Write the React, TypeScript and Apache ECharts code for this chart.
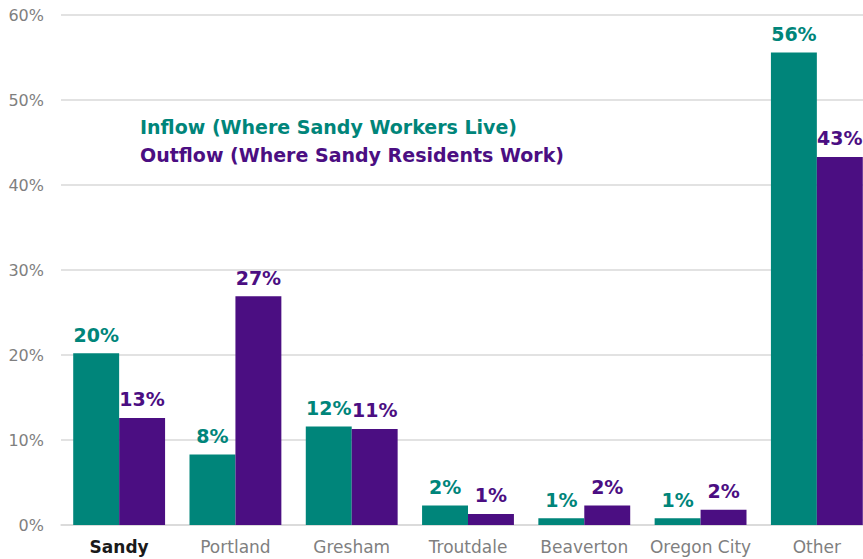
import React, { useEffect, useRef } from "react";
import * as echarts from "echarts";

const categories = ["Sandy", "Portland", "Gresham", "Troutdale", "Beaverton", "Oregon City", "Other"];
const inflow = [20.2, 8.3, 11.6, 2.3, 0.8, 0.8, 55.6];
const outflow = [12.6, 26.9, 11.3, 1.3, 2.3, 1.8, 43.3];
const yTicks = [0, 10, 20, 30, 40, 50, 60];
const legendLabels = ["Inflow (Where Sandy Workers Live)", "Outflow (Where Sandy Residents Work)"];

const TEAL = "#00857A";
const PURPLE = "#4B0E82";
const FONT = "'DejaVu Sans', sans-serif";

export default function App() {
  const ref = useRef<HTMLDivElement>(null);
  useEffect(() => {
    const chart = echarts.init(ref.current!, null, { renderer: "svg" });
    const labelStyle = (color: string) => ({
      show: true,
      position: "top" as const,
      distance: 9,
      color,
      fontFamily: FONT,
      fontWeight: "bold" as const,
      fontSize: 19,
      formatter: (p: any) => Math.round(p.value) + "%",
    });
    chart.setOption({
      animation: false,
      grid: { left: 61, top: 15, right: 0, bottom: 34, containLabel: false },
      xAxis: {
        type: "category",
        data: categories,
        axisLine: { show: true, lineStyle: { color: "#d9d9d9", width: 1.5 } },
        axisTick: { show: false },
        axisLabel: {
          interval: 0,
          margin: 13,
          fontFamily: FONT,
          fontSize: 17,
          color: "#7f7f7f",
          rich: { b: { fontWeight: "bold", color: "#1a1a1a", fontFamily: FONT, fontSize: 17 } },
          formatter: (v: string) => (v === "Sandy" ? "{b|" + v + "}" : v),
        },
      },
      yAxis: {
        type: "value",
        min: yTicks[0],
        max: yTicks[yTicks.length - 1],
        interval: 10,
        axisLine: { show: false },
        axisTick: { show: false },
        splitLine: { lineStyle: { color: "#d9d9d9", width: 1.5 } },
        axisLabel: {
          margin: 17,
          fontFamily: FONT,
          fontSize: 16,
          color: "#7f7f7f",
          formatter: (v: number) => v + "%",
        },
      },
      graphic: [
        {
          type: "text",
          left: 140,
          top: 117,
          style: { text: legendLabels[0], fill: TEAL, font: "bold 19px " + FONT },
        },
        {
          type: "text",
          left: 140,
          top: 145,
          style: { text: legendLabels[1], fill: PURPLE, font: "bold 19px " + FONT },
        },
      ],
      series: [
        {
          type: "bar",
          name: legendLabels[0],
          data: inflow,
          barGap: "0%",
          barCategoryGap: "21%",
          itemStyle: { color: TEAL },
          label: labelStyle(TEAL),
        },
        {
          type: "bar",
          name: legendLabels[1],
          data: outflow,
          itemStyle: { color: PURPLE },
          label: labelStyle(PURPLE),
        },
      ],
    });
    return () => chart.dispose();
  }, []);
  return (
    <div style={{ position: "absolute", left: 0, top: 0, width: 863, height: 559, overflow: "hidden" }}>
      <div ref={ref} style={{ width: 875, height: 559 }} />
    </div>
  );
}
